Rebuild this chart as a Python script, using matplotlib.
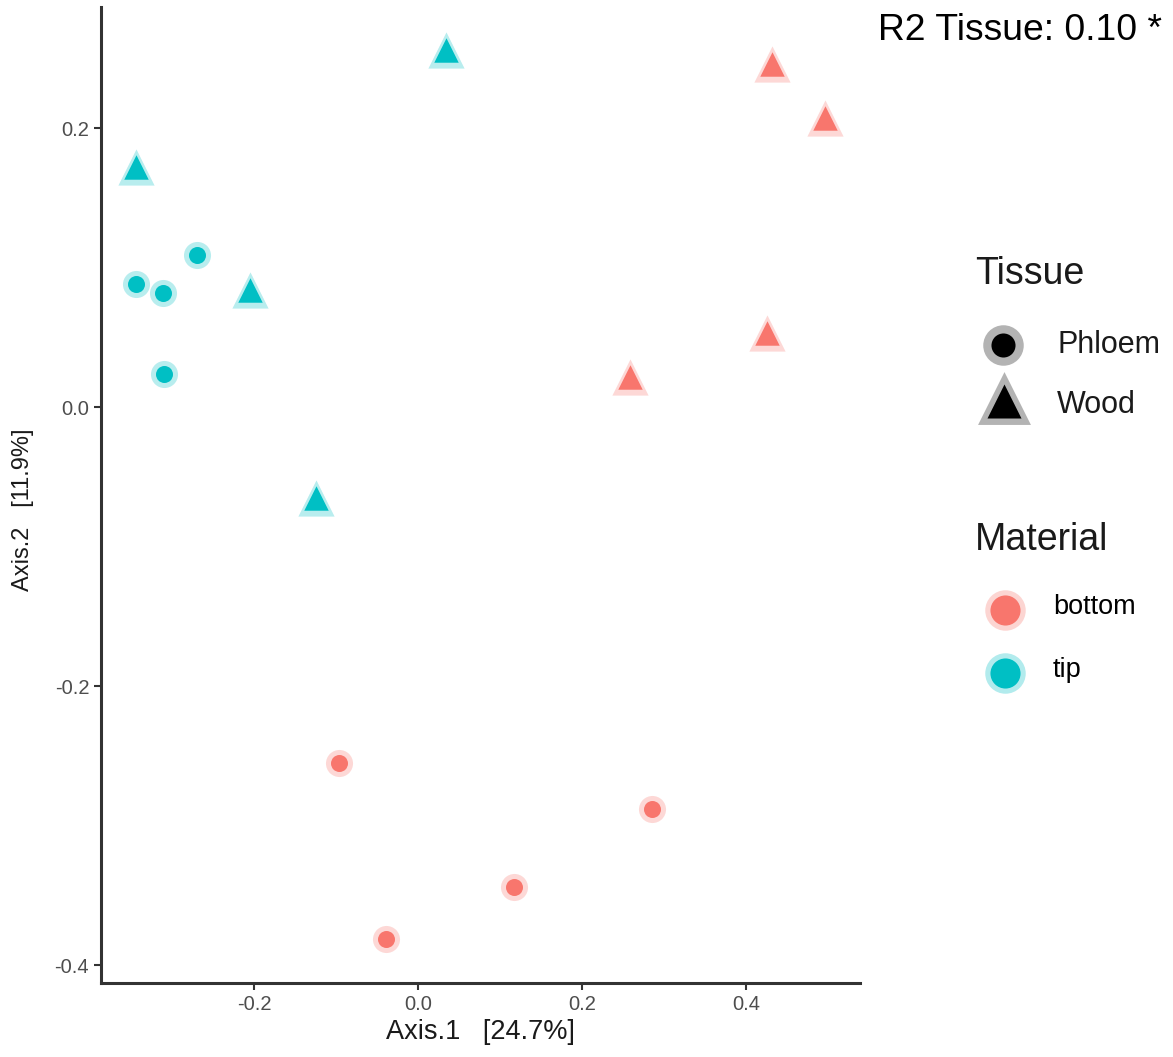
import numpy as np
import matplotlib
matplotlib.use("Agg")
import matplotlib.pyplot as plt

plt.rcParams['font.family'] = ['Liberation Sans', 'DejaVu Sans']

# PCoA coordinates
material = ["tip", "tip", "tip", "tip", "tip", "tip", "tip", "tip",
            "bottom", "bottom", "bottom", "bottom", "bottom", "bottom", "bottom", "bottom"]
tissue = ["Wood", "Wood", "Wood", "Wood", "Phloem", "Phloem", "Phloem", "Phloem",
          "Wood", "Wood", "Wood", "Wood", "Phloem", "Phloem", "Phloem", "Phloem"]
axis1 = [-0.344, 0.034, -0.205, -0.125, -0.344, -0.311, -0.270, -0.310,
         0.432, 0.496, 0.426, 0.259, -0.097, 0.285, 0.117, -0.039]
axis2 = [0.172, 0.256, 0.084, -0.065, 0.088, 0.082, 0.109, 0.024,
         0.246, 0.207, 0.053, 0.022, -0.255, -0.288, -0.344, -0.381]

colors = {"bottom": "#F8766D", "tip": "#00BFC4"}
shapes = {"Phloem": "o", "Wood": "^"}
inner_size = {"Phloem": 150, "Wood": 310}
halo_size = {"Phloem": 380, "Wood": 680}

axis1 = np.array(axis1)
axis2 = np.array(axis2)
material = np.array(material)
tissue = np.array(tissue)

fig = plt.figure(figsize=(11.73, 10.57), dpi=100)
ax = fig.add_axes([101/1173, 1 - 983/1057, (860-101)/1173, (983-7)/1057])

for m in ["bottom", "tip"]:
    for t in ["Phloem", "Wood"]:
        sel = (material == m) & (tissue == t)
        ax.scatter(axis1[sel], axis2[sel], s=halo_size[t], marker=shapes[t],
                   color=colors[m], alpha=0.28, linewidths=0, zorder=2)
        ax.scatter(axis1[sel], axis2[sel], s=inner_size[t], marker=shapes[t],
                   color=colors[m], linewidths=0, zorder=3)

ax.set_xlim(-0.387, 0.539)
ax.set_ylim(-0.4126, 0.2868)
ax.set_xticks([-0.2, 0.0, 0.2, 0.4])
ax.set_yticks([-0.4, -0.2, 0.0, 0.2])
ax.set_xticklabels(["-0.2", "0.0", "0.2", "0.4"])
ax.set_yticklabels(["-0.4", "-0.2", "0.0", "0.2"])
ax.tick_params(colors="#333333", labelcolor="#4D4D4D", labelsize=14.5, length=5, width=1.5)
for side in ["top", "right"]:
    ax.spines[side].set_visible(False)
for side in ["left", "bottom"]:
    ax.spines[side].set_color("#333333")
    ax.spines[side].set_linewidth(2.2)

ax.set_xlabel("Axis.1   [24.7%]", fontsize=19.5, labelpad=4, color="#1a1a1a")
ax.set_ylabel("Axis.2   [11.9%]", fontsize=17, color="#1a1a1a")
ax.yaxis.set_label_coords(-0.088, 0.485)

fig.text(1162/1173, 1 - 40/1057, "R2 Tissue: 0.10 *", fontsize=26.8, ha="right", va="baseline")

# legends on an overlay in pixel space
lax = fig.add_axes([0, 0, 1, 1])
lax.set_xlim(0, 1173)
lax.set_ylim(1057, 0)
lax.axis("off")

lax.text(975, 274, "Tissue", fontsize=27, va="center", ha="left", color="#1a1a1a")
lax.scatter([1003], [345], s=850, marker="o", color="#B3B3B3", linewidths=0)
lax.scatter([1003], [345], s=300, marker="o", color="black", linewidths=0)
lax.text(1057, 345, "Phloem", fontsize=22, va="center", ha="left", color="#1a1a1a")
lax.scatter([1004], [398], s=1450, marker="^", color="#B3B3B3", linewidths=0)
lax.scatter([1004], [401], s=600, marker="^", color="black", linewidths=0)
lax.text(1057, 405, "Wood", fontsize=22, va="center", ha="left", color="#1a1a1a")

lax.text(975, 540, "Material", fontsize=27, va="center", ha="left", color="#1a1a1a")
for yy, m in zip([610, 673], ["bottom", "tip"]):
    lax.scatter([1005], [yy], s=850, marker="o", color=colors[m], alpha=0.3, linewidths=0)
    lax.scatter([1005], [yy], s=470, marker="o", color=colors[m], linewidths=0)
    lax.text(1053, yy - 3, m, fontsize=19.5, va="center", ha="left", color="black")

fig.savefig("out.png", dpi=100, facecolor="white")
